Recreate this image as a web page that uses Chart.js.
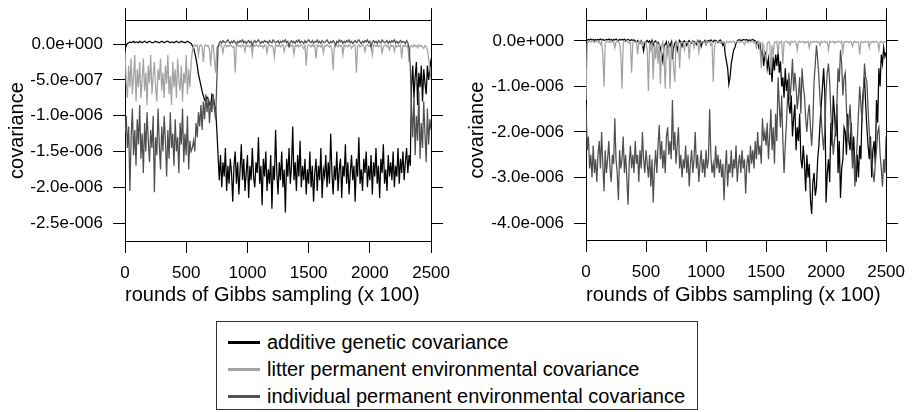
<!DOCTYPE html>
<html>
<head>
<meta charset="utf-8">
<script src="https://cdn.jsdelivr.net/npm/chart.js@4/dist/chart.umd.min.js"></script>
<style>
  html, body { margin: 0; padding: 0; background: #fff; }
  body { width: 915px; height: 412px; position: relative; overflow: hidden; font-family: "Liberation Sans", Arial, sans-serif; }
  .panel { position: absolute; top: 0; height: 310px; }
  #legend { position: absolute; left: 216px; top: 321px; width: 482px; height: 89px; border: 1px solid #333; box-sizing: border-box; }
  .row { position: absolute; left: 0; height: 24px; display: flex; align-items: center; font-size: 20px; color: #000; white-space: nowrap; }
  .sw { width: 32px; height: 3px; margin-left: 11px; margin-right: 7px; }
</style>
</head>
<body>
<div class="panel" style="left:0;width:460px;"><canvas id="left" width="460" height="310"></canvas></div>
<div class="panel" style="left:460px;width:455px;"><canvas id="right" width="455" height="310"></canvas></div>
<div id="legend">
  <div class="row" style="top:8px;"><div class="sw" style="background:#000"></div>additive genetic covariance</div>
  <div class="row" style="top:35px;"><div class="sw" style="background:#a3a3a3"></div>litter permanent environmental covariance</div>
  <div class="row" style="top:62px;"><div class="sw" style="background:#525252"></div>individual permanent environmental covariance</div>
</div>
<script>
// x: rounds of Gibbs sampling (x 100)
const rounds = [0,10,20,30,40,50,60,70,80,90,100,110,120,130,140,150,160,170,180,190,200,210,220,230,240,250,260,270,280,290,
300,310,320,330,340,350,360,370,380,390,400,410,420,430,440,450,460,470,480,490,500,510,520,530,540,550,560,570,580,590,
600,610,620,630,640,650,660,670,680,690,700,710,720,730,740,750,760,770,780,790,800,810,820,830,840,850,860,870,880,890,
900,910,920,930,940,950,960,970,980,990,1000,1010,1020,1030,1040,1050,1060,1070,1080,1090,1100,1110,1120,1130,1140,1150,1160,1170,1180,1190,
1200,1210,1220,1230,1240,1250,1260,1270,1280,1290,1300,1310,1320,1330,1340,1350,1360,1370,1380,1390,1400,1410,1420,1430,1440,1450,1460,1470,1480,1490,
1500,1510,1520,1530,1540,1550,1560,1570,1580,1590,1600,1610,1620,1630,1640,1650,1660,1670,1680,1690,1700,1710,1720,1730,1740,1750,1760,1770,1780,1790,
1800,1810,1820,1830,1840,1850,1860,1870,1880,1890,1900,1910,1920,1930,1940,1950,1960,1970,1980,1990,2000,2010,2020,2030,2040,2050,2060,2070,2080,2090,
2100,2110,2120,2130,2140,2150,2160,2170,2180,2190,2200,2210,2220,2230,2240,2250,2260,2270,2280,2290,2300,2310,2320,2330,2340,2350,2360,2370,2380,2390,
2400,2410,2420,2430,2440,2450,2460,2470,2480,2490,2500];

// values in units of 1e-6
const leftAdditive = [
-0.08,-0.02,0.01,0.02,0.03,0.02,0.03,0.04,0.02,0.03,
0.03,0.02,0.04,0.03,0.02,0.03,0.04,0.03,0.02,0.03,
0.04,0.03,0.02,0.02,0.03,0.04,0.03,0.03,0.02,0.03,
0.04,0.03,0.02,0.03,0.04,0.04,0.03,0.02,0.03,0.03,
0.02,0.03,0.04,0.03,0.02,0.03,0.04,0.03,0.03,0.02,
0.03,0.04,0.03,0.02,0.01,-0.02,
-0.05,-0.12,-0.2,-0.3,-0.42,-0.5,-0.58,-0.66,-0.72,-0.78,-0.8,-0.74,-0.76,-0.84,-0.86,-0.7,-0.72,-0.85,-0.9,-1.2,-1.55,
-1.9,-1.55,-2.0,-1.65,-1.85,-1.45,-2.05,-1.7,-1.95,-1.6,
-1.8,-2.2,-1.7,-1.5,-1.95,-1.65,-2.1,-1.75,-1.4,-1.9,
-1.6,-2.05,-1.8,-1.55,-2.15,-1.7,-1.9,-1.45,-1.85,-2.0,
-1.65,-1.8,-1.3,-1.95,-1.7,-2.25,-1.6,-1.85,-1.5,-2.05,
-1.75,-1.95,-1.55,-2.3,-1.7,-1.9,-1.2,-1.8,-2.1,-1.65,
-1.9,-1.5,-2.0,-1.75,-2.35,-1.6,-1.85,-1.45,-1.95,-1.7,
-1.15,-1.9,-1.65,-2.05,-1.55,-1.85,-1.35,-2.0,-1.7,-1.9,
-1.6,-2.1,-1.75,-1.95,-1.5,-2.0,-1.7,-2.2,-1.8,-1.6,
-2.05,-1.7,-1.9,-1.45,-2.15,-1.75,-1.85,-1.55,-2.0,-1.65,
-1.95,-1.25,-1.8,-2.1,-1.7,-1.9,-1.5,-2.05,-1.75,-1.6,
-2.15,-1.7,-1.85,-1.4,-1.95,-1.65,-2.1,-1.8,-1.55,-1.9,
-1.7,-2.2,-1.6,-1.85,-1.3,-1.95,-1.75,-2.05,-1.6,-1.8,
-1.5,-2.0,-1.7,-1.9,-1.55,-2.1,-1.65,-1.85,-1.45,-1.95,
-1.7,-2.15,-1.6,-1.8,-1.4,-1.95,-1.75,-2.05,-1.55,-1.85,
-1.65,-1.9,-1.5,-2.0,-1.7,-1.85,-1.45,-1.95,-1.6,-1.8,
-1.5,-1.9,-1.65,-1.45,-1.8,-1.55,-1.7,
-0.6,-0.3,-0.75,-0.45,-0.25,-0.85,-0.4,-0.6,-0.3,-0.8,-0.35,-0.55,-0.7,-0.3,-0.5,-0.35,-0.2];

const leftLitter = [
-0.1,-0.55,-0.75,-0.3,-0.6,-0.2,-0.7,-0.45,-0.15,-0.8,
-0.35,-0.6,-0.25,-0.75,-0.5,-0.2,-0.65,-0.4,-0.85,-0.3,
-0.55,-0.15,-0.7,-0.45,-0.25,-0.6,-0.8,-0.35,-0.5,-0.2,
-0.65,-0.4,-0.75,-0.3,-0.55,-0.15,-0.7,-0.45,-0.85,-0.25,
-0.6,-0.35,-0.75,-0.2,-0.5,-0.65,-0.3,-0.8,-0.4,-0.55,
-0.15,-0.7,-0.35,-0.6,-0.25,-0.1,
-0.02,-0.01,-0.03,-0.01,-0.15,-0.02,-0.01,-0.04,-0.25,-0.02,-0.01,-0.03,-0.02,-0.08,-0.3,-0.02,-0.01,-0.2,-0.4,-0.05,-0.02,
-0.02,-0.01,-0.03,-0.12,-0.02,-0.01,-0.04,-0.02,-0.03,-0.01,
-0.02,-0.05,-0.03,-0.4,-0.02,-0.01,-0.03,-0.02,-0.04,-0.01,
-0.02,-0.1,-0.01,-0.03,-0.02,-0.04,-0.01,-0.15,-0.02,-0.03,
-0.01,-0.02,-0.04,-0.01,-0.03,-0.02,-0.05,-0.01,-0.02,-0.12,
-0.02,-0.01,-0.03,-0.02,-0.04,-0.18,-0.01,-0.02,-0.03,-0.01,
-0.04,-0.02,-0.01,-0.1,-0.03,-0.02,-0.01,-0.04,-0.02,-0.03,
-0.01,-0.14,-0.02,-0.03,-0.01,-0.04,-0.02,-0.01,-0.03,-0.06,
-0.02,-0.3,-0.03,-0.01,-0.02,-0.04,-0.01,-0.03,-0.02,-0.2,
-0.01,-0.03,-0.02,-0.04,-0.01,-0.12,-0.02,-0.03,-0.01,-0.02,
-0.04,-0.02,-0.08,-0.36,-0.03,-0.01,-0.02,-0.04,-0.01,-0.03,
-0.02,-0.15,-0.01,-0.03,-0.02,-0.04,-0.01,-0.02,-0.06,-0.03,
-0.01,-0.02,-0.4,-0.03,-0.01,-0.04,-0.02,-0.01,-0.03,-0.1,
-0.02,-0.01,-0.03,-0.02,-0.04,-0.15,-0.01,-0.02,-0.03,-0.01,
-0.04,-0.02,-0.01,-0.12,-0.03,-0.02,-0.01,-0.04,-0.02,-0.08,
-0.01,-0.03,-0.02,-0.1,-0.01,-0.04,-0.02,-0.03,-0.01,-0.2,
-0.02,-0.03,-0.01,-0.04,-0.02,-0.25,-0.03,
-0.02,-0.04,-0.01,-0.03,-0.02,-0.05,-0.01,-0.03,-0.02,-0.04,-0.06,-0.02,-0.03,-0.08,-0.2,-0.35,-0.5];

const leftIndividual = [
-1.25,-1.0,-1.45,-1.15,-2.05,-1.3,-0.9,-1.55,-1.2,-1.7,
-1.05,-1.4,-0.85,-1.6,-1.25,-1.8,-1.1,-1.5,-0.95,-1.35,
-1.65,-1.2,-1.45,-1.0,-2.07,-1.3,-1.55,-0.9,-1.4,-1.75,
-1.15,-1.5,-1.0,-1.35,-1.85,-1.2,-1.6,-0.95,-1.45,-1.25,
-1.7,-1.05,-1.5,-1.3,-1.8,-1.1,-1.4,-0.9,-1.65,-1.25,
-1.55,-1.0,-1.75,-1.35,-1.5,-1.45,
-1.35,-1.5,-1.1,-1.3,-0.95,-1.15,-0.85,-1.2,-0.8,-1.05,-0.7,-0.95,-0.75,-1.1,-0.8,-0.95,-0.7,-0.9,-1.05,-0.5,-0.05,
0.02,0.04,0.01,0.05,0.03,0.02,0.04,0.06,0.03,0.01,
0.04,0.02,0.05,0.03,0.0,0.04,0.02,0.05,0.03,0.06,
0.02,0.04,0.01,0.03,0.05,0.02,0.04,-0.02,0.03,0.05,
0.02,0.04,0.06,0.03,0.01,0.04,0.02,0.05,0.03,0.04,
0.01,0.05,0.03,0.02,0.06,0.04,0.02,0.03,0.05,0.01,
0.04,0.02,0.05,0.03,0.06,0.02,0.04,-0.03,0.03,0.05,
0.02,0.04,0.01,0.05,0.03,0.06,0.02,0.04,0.03,0.01,
0.05,0.02,0.04,0.06,0.03,0.02,0.05,0.01,0.04,0.03,
0.06,0.02,0.04,0.01,0.05,0.03,0.02,0.04,0.06,0.03,
0.01,0.04,0.02,0.05,0.03,-0.02,0.04,0.02,0.06,0.03,
0.05,0.01,0.04,0.02,0.05,0.03,0.06,0.02,0.04,0.01,
0.03,0.05,0.02,0.04,0.06,0.03,0.01,0.04,0.02,0.05,
0.03,0.06,0.02,0.04,-0.04,0.03,0.05,0.02,0.04,0.01,
0.05,0.03,0.02,0.06,0.04,0.02,0.03,0.05,0.01,0.04,
0.02,0.05,0.03,0.06,0.02,0.04,0.01,0.03,0.05,0.02,
0.04,0.03,0.01,0.05,0.02,-0.05,-0.3,
-0.9,-1.3,-0.7,-1.55,-1.0,-1.35,-0.65,-1.6,-1.1,-1.45,-0.8,-1.25,-1.65,-0.9,-1.4,-1.05,-1.2];

const rightAdditive = [
-0.02,0.02,0.03,0.02,0.04,0.02,0.03,0.01,0.03,0.02,
0.03,0.02,0.04,0.02,0.03,0.01,0.02,0.03,0.02,0.04,
0.02,0.03,0.01,0.03,0.02,0.04,0.02,0.01,0.03,0.02,
0.03,0.02,0.04,0.01,0.02,0.03,0.02,0.0,0.03,0.01,
0.02,0.0,-0.03,0.01,-0.02,-0.05,0.0,-0.08,-0.22,-0.04,
-0.02,0.01,-0.03,0.0,-0.06,0.01,-0.1,-0.02,0.0,-0.05,
-0.03,-0.08,-0.15,-0.3,-0.45,-0.1,-0.08,-0.02,-0.25,-0.05,
-0.12,-0.03,-0.4,-0.15,-0.05,-0.02,-0.2,-0.06,0.01,-0.03,
-0.12,-0.02,0.0,-0.04,-0.1,-0.02,0.01,-0.03,-0.05,0.0,
-0.02,-0.04,-0.08,0.01,-0.03,0.0,-0.12,-0.02,-0.03,0.01,
-0.08,0.0,0.01,-0.02,0.02,0.0,-0.02,0.01,0.01,-0.01,
-0.04,0.01,0.02,-0.02,-0.1,-0.05,-0.3,-0.45,-0.6,-0.95,
-0.8,-0.5,-0.35,-0.2,-0.15,-0.05,0.0,0.02,0.02,0.01,
0.01,0.03,0.02,0.02,0.03,0.0,0.02,0.01,0.02,0.03,
0.01,0.0,-0.05,-0.02,-0.15,-0.08,-0.35,-0.2,-0.55,-0.3,
-0.25,-0.6,-0.4,-0.75,-0.5,-0.9,-0.35,-0.65,-0.3,-0.55,
-0.2,-0.7,-0.45,-1.0,-0.8,-1.25,-0.6,-1.1,-0.85,-1.4,
-1.6,-1.2,-2.1,-1.7,-1.4,-2.4,-1.9,-2.2,-1.6,-2.6,
-2.8,-2.3,-2.7,-3.3,-2.5,-3.0,-2.7,-3.5,-3.8,-3.1,
-2.9,-3.4,-3.2,-2.6,-2.3,-1.8,-1.4,-1.0,-0.6,-1.2,
-3.55,-2.9,-2.6,-3.1,-1.8,-2.3,-1.2,-1.6,-2.1,-1.4,
-2.9,-2.2,-3.45,-2.8,-2.6,-1.9,-2.0,-2.5,-1.6,-2.2,
-2.4,-1.8,-2.6,-2.1,-2.7,-3.1,-2.5,-3.0,-2.3,-2.6,
-1.5,-1.1,-0.8,-1.4,-1.9,-2.3,-2.6,-2.1,-3.0,-2.4,
-2.2,-2.7,-1.3,-1.8,-0.6,-1.0,-0.3,-0.5,-0.15,-0.35,
-0.25];

const rightLitter = [
-1.3,-0.05,0.0,-0.02,-0.03,0.01,-0.02,-0.04,0.0,-0.02,
-0.03,-0.01,-0.08,-0.02,-0.3,-1.0,-0.05,-0.02,0.0,-0.03,
-0.01,-0.04,-0.02,0.0,-0.15,-0.03,-0.01,-0.02,-0.05,-0.3,
-1.05,-0.04,-0.01,-0.02,0.0,-0.03,-0.05,-0.02,-0.7,-0.04,
-0.01,-0.03,-0.02,-0.3,-0.01,-0.04,-0.02,-0.1,-0.03,-0.02,
-0.05,-0.2,-1.1,-0.04,-0.2,-0.02,-0.85,-0.03,-0.4,-0.02,
-0.5,-0.05,-0.95,-0.1,-0.02,-0.3,-1.05,-0.08,-0.3,-0.04,
-1.05,-0.15,-0.05,-0.6,-0.9,-0.03,-0.1,-0.02,-0.6,-0.04,
-0.02,-0.05,-0.2,-0.03,-0.01,-0.04,-0.4,-0.02,-0.03,-0.01,
-0.15,-0.02,-0.04,-0.01,-0.25,-0.03,-0.02,-0.01,-0.03,-0.02,
-0.08,-0.01,-0.03,-0.02,-0.1,-0.04,-0.9,-0.15,-0.02,-0.01,
-0.03,-0.02,-0.05,-0.01,-0.02,-0.03,-0.12,-0.01,-0.02,-0.04,
-0.01,-0.03,-0.02,-0.01,-0.06,-0.02,-0.01,-0.03,-0.04,-0.01,
-0.02,-0.03,-0.08,-0.01,-0.02,-0.04,-0.01,-0.03,-0.02,-0.01,
-0.05,-0.02,-0.15,-0.03,-0.01,-0.2,-0.6,-0.05,-0.1,-0.3,
-0.45,-0.05,-0.02,-0.04,-0.7,-0.1,-0.3,-0.02,-0.03,-0.01,
-0.3,-0.02,-0.04,-0.01,-0.5,-0.03,-0.02,-0.01,-0.04,-0.02,
-0.1,-0.01,-0.03,-0.02,-0.01,-0.04,-0.2,-0.02,-0.01,-0.03,
-0.02,-0.01,-0.05,-0.02,-0.03,-0.01,-0.15,-0.02,-0.04,-0.01,
-0.03,-0.02,-0.01,-0.04,-0.02,-0.1,-0.01,-0.03,-0.02,-0.01,
-0.04,-0.02,-0.2,-0.01,-0.03,-0.02,-0.01,-0.05,-0.02,-0.03,
-0.01,-0.02,-0.04,-0.01,-0.25,-0.02,-0.03,-0.01,-0.02,-0.04,
-0.01,-0.03,-0.12,-0.02,-0.01,-0.04,-0.02,-0.03,-0.3,-0.01,
-0.02,-0.04,-0.01,-0.03,-0.02,-0.01,-0.15,-0.02,-0.03,-0.01,
-0.04,-0.02,-0.01,-0.03,-0.2,-0.02,-0.01,-0.04,-0.02,-0.03,
-0.02];

const rightIndividual = [
-1.4,-2.4,-2.1,-2.8,-2.5,-3.0,-2.3,-2.9,-2.6,-3.1,
-2.5,-2.2,-2.8,-2.0,-2.7,-3.3,-2.4,-2.9,-2.6,-2.2,
-2.8,-3.1,-2.5,-2.7,-1.7,-2.6,-2.9,-3.5,-2.4,-2.8,
-2.6,-2.1,-2.9,-2.5,-3.0,-3.6,-2.7,-2.3,-2.8,-2.5,
-2.9,-2.2,-2.7,-2.5,-3.1,-2.4,-2.8,-2.0,-2.6,-2.9,
-2.4,-2.7,-3.0,-2.5,-3.2,-2.6,-3.55,-2.8,-2.4,-2.9,
-2.3,-1.85,-2.6,-2.2,-2.8,-2.4,-2.9,-2.1,-1.9,-2.5,
-2.2,-2.6,-1.3,-2.4,-2.0,-2.7,-2.3,-1.9,-2.8,-2.5,
-3.0,-2.6,-2.8,-2.3,-2.9,-2.5,-3.2,-2.7,-2.4,-2.9,
-2.6,-2.0,-2.8,-2.5,-3.1,-2.7,-2.4,-2.9,-2.6,-3.0,
-2.4,-2.8,-2.6,-1.5,-2.5,-2.9,-2.7,-3.0,-2.3,-2.8,
-2.5,-2.9,-2.6,-3.0,-2.7,-3.5,-2.8,-2.4,-3.2,-2.7,
-2.9,-2.4,-3.0,-2.6,-2.8,-2.3,-3.1,-2.7,-2.5,-2.9,
-2.4,-2.8,-2.6,-3.35,-2.7,-2.5,-2.9,-2.3,-2.7,-2.4,
-2.8,-2.2,-2.6,-2.0,-2.5,-2.3,-2.7,-1.7,-2.2,-2.0,
-2.3,-1.8,-2.6,-2.1,-1.5,-2.4,-1.9,-2.7,-1.6,-2.2,
-0.8,-1.4,-1.9,-1.2,-2.2,-2.9,-2.3,-1.8,-1.2,-0.7,
-1.3,-0.9,-0.4,-1.1,-0.7,-1.0,-1.5,-1.2,-0.8,-1.6,
-0.6,-1.0,-1.2,-1.7,-2.0,-1.6,-1.4,-1.9,-2.3,-1.8,
-0.9,-0.5,-0.1,-0.4,-0.8,-1.3,-1.7,-2.1,-2.4,-1.9,
-1.1,-0.7,-0.5,-0.9,-1.6,-2.0,-2.5,-2.2,-1.9,-1.4,
-0.6,-0.9,-0.2,-0.5,-1.2,-0.8,-0.7,-1.5,-2.2,-1.8,
-1.4,-2.0,-2.8,-2.4,-3.2,-2.7,-2.2,-1.6,-1.0,-1.4,
-1.8,-1.2,-0.5,-0.8,-0.9,-1.5,-2.0,-2.4,-2.6,-2.9,
-3.1,-2.7,-2.4,-2.0,-1.9,-2.5,-2.8,-3.2,-2.6,-2.9,
-2.1];

const xTicks = [0, 500, 1000, 1500, 2000, 2500];
const leftYTicks = [0, -0.5, -1.0, -1.5, -2.0, -2.5];   // x 1e-6
const rightYTicks = [0, -1.0, -2.0, -3.0, -4.0];        // x 1e-6
const leftYRange = [-2.75, 0.335];
const rightYRange = [-4.373, 0.454];
const UNIT = 1e-6;

const seriesNames = ['additive genetic covariance', 'litter permanent environmental covariance', 'individual permanent environmental covariance'];
const seriesColors = ['#000000', '#a3a3a3', '#4f4f4f'];

Chart.defaults.font.family = '"Liberation Sans", Arial, sans-serif';
Chart.defaults.color = '#000';

function fmt(v) {
  if (Math.abs(v) < 1e-15) return '0.0e+000';
  const parts = v.toExponential(1).split('e');
  const e = parseInt(parts[1], 10);
  return parts[0] + 'e' + (e < 0 ? '-' : '+') + String(Math.abs(e)).padStart(3, '0');
}

function toPts(vals) { return vals.map((v, i) => ({ x: rounds[i], y: v * UNIT })); }

function makeChart(id, add, lit, ind, yTicks, yRange, dims) {
  const setTicks = (vals, mul) => (s) => { s.ticks = vals.map(v => ({ value: v * mul })); };
  const gridOpts = { drawOnChartArea: false, drawTicks: true, tickLength: 12, color: '#000', lineWidth: 1 };
  const borderOpts = { display: true, color: '#000', width: 1 };
  return new Chart(document.getElementById(id), {
    type: 'line',
    data: {
      datasets: [
        { label: seriesNames[2], data: toPts(ind), borderColor: seriesColors[2] },
        { label: seriesNames[1], data: toPts(lit), borderColor: seriesColors[1] },
        { label: seriesNames[0], data: toPts(add), borderColor: seriesColors[0] }
      ]
    },
    options: {
      responsive: false,
      animation: false,
      devicePixelRatio: 1,
      layout: { padding: 0 },
      elements: { point: { radius: 0 }, line: { borderWidth: 1.25, tension: 0 } },
      plugins: { legend: { display: false }, tooltip: { enabled: false } },
      scales: {
        x: {
          type: 'linear', position: 'bottom', min: 0, max: 2500,
          afterBuildTicks: setTicks(xTicks, 1),
          afterFit: (s) => { s.height = dims.bottom; },
          grid: gridOpts, border: borderOpts,
          ticks: { font: { size: 17 }, padding: 10, maxRotation: 0, autoSkip: false, callback: (v) => String(v) },
          title: { display: true, text: 'rounds of Gibbs sampling (x 100)', font: { size: 20 }, align: 'start', padding: { top: 3, bottom: 3 } }
        },
        x2: {
          type: 'linear', position: 'top', min: 0, max: 2500,
          afterBuildTicks: setTicks(xTicks, 1),
          afterFit: (s) => { s.height = dims.top; },
          grid: gridOpts, border: borderOpts,
          ticks: { display: false }
        },
        y: {
          type: 'linear', position: 'left', min: yRange[0] * UNIT, max: yRange[1] * UNIT,
          afterBuildTicks: setTicks(yTicks, UNIT),
          afterFit: (s) => { s.width = dims.left; },
          grid: gridOpts, border: borderOpts,
          ticks: { font: { size: 17 }, padding: 10, autoSkip: false, callback: (v) => fmt(v) },
          title: { display: true, text: 'covariance', font: { size: 20 }, padding: { top: 5, bottom: 5 } }
        },
        y2: {
          type: 'linear', position: 'right', min: yRange[0] * UNIT, max: yRange[1] * UNIT,
          afterBuildTicks: setTicks(yTicks, UNIT),
          afterFit: (s) => { s.width = dims.right; },
          grid: gridOpts, border: borderOpts,
          ticks: { display: false }
        }
      }
    }
  });
}

makeChart('left', leftAdditive, leftLitter, leftIndividual, leftYTicks, leftYRange, { left: 125, right: 28, top: 20, bottom: 69 });
makeChart('right', rightAdditive, rightLitter, rightIndividual, rightYTicks, rightYRange, { left: 126, right: 22, top: 20, bottom: 70 });
</script>
</body>
</html>
